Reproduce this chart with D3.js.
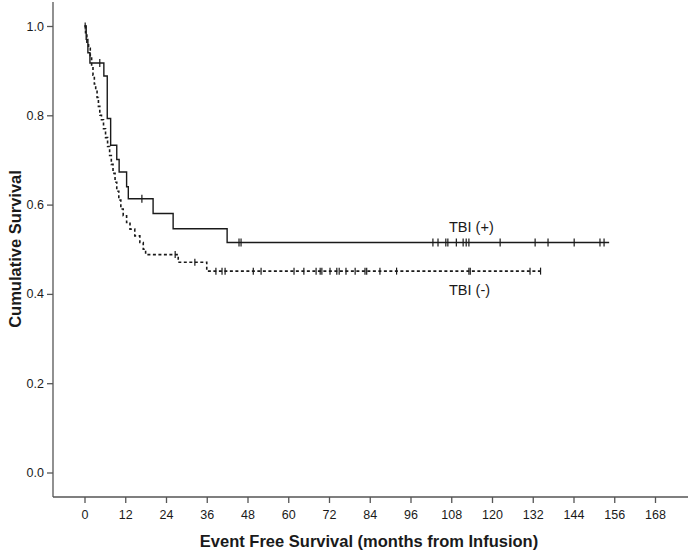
<!DOCTYPE html>
<html>
<head>
<meta charset="utf-8">
<script src="https://cdn.jsdelivr.net/npm/d3@7"></script>
<style>
  body { margin: 0; background: #fff; }
  svg { font-family: "Liberation Sans", Arial, sans-serif; }
</style>
</head>
<body>
<div id="chart"></div>
<script>
// TBI (+) : step times (months) and survival after each step
var tbiPosTimes = [0, 0.5, 1.0, 1.6, 5.7, 6.7, 7.7, 9.5, 10.2, 12.4, 12.9, 20.2, 26.1, 42.0];
var tbiPosSurv  = [1, 0.97, 0.94, 0.917, 0.888, 0.793, 0.733, 0.701, 0.673, 0.640, 0.613, 0.580, 0.546, 0.515];
var tbiPosEnd = 154.5;
var tbiPosCensor = [4.5, 16.9, 45.5, 46.1, 102.6, 104.1, 106.4, 107.0, 109.5, 111.5, 112.4, 113.2, 122.4, 132.7, 136.5, 144.2, 151.8, 153.0];

// TBI (-)
var tbiNegTimes = [0, 0.3, 0.7, 1.2, 1.7, 2.1, 2.5, 2.9, 3.3, 3.7, 4.1, 4.5, 5.0, 5.6, 6.2, 6.8, 7.4, 7.9, 8.4, 9.0, 9.5, 10.1, 10.7, 11.4, 12.4, 13.4, 14.8, 16.3, 17.3, 18.0, 27.6, 36.0];
var tbiNegSurv  = [1, 0.98, 0.96, 0.95, 0.93, 0.91, 0.89, 0.87, 0.86, 0.84, 0.82, 0.80, 0.79, 0.77, 0.75, 0.73, 0.71, 0.69, 0.67, 0.65, 0.63, 0.61, 0.59, 0.575, 0.56, 0.545, 0.53, 0.515, 0.50, 0.488, 0.471, 0.451];
var tbiNegEnd = 134.3;
var tbiNegCensor = [0.2, 26.7, 32.5, 38.7, 40.5, 41.4, 49.7, 52.0, 61.7, 64.6, 68.2, 69.4, 69.9, 72.3, 74.3, 75.0, 77.0, 79.7, 82.6, 83.1, 87.0, 91.9, 113.2, 113.6, 131.2, 134.3];

var xTicks = [0, 12, 24, 36, 48, 60, 72, 84, 96, 108, 120, 132, 144, 156, 168];
var yTicks = [0.0, 0.2, 0.4, 0.6, 0.8, 1.0];
var groupLabels = ["TBI (+)", "TBI (-)"];

var W = 688, H = 551;
var svg = d3.select("#chart").append("svg").attr("width", W).attr("height", H);

var x = d3.scaleLinear().domain([0, 168]).range([84.5, 655]);
var y = d3.scaleLinear().domain([0, 1]).range([472.5, 26]);

var axisColor = "#555";
var ink = "#1a1a1a";

// frame lines
svg.append("line").attr("x1", 53).attr("x2", 53).attr("y1", 2).attr("y2", 497)
  .attr("stroke", axisColor).attr("stroke-width", 1.3);
svg.append("line").attr("x1", 53).attr("x2", W).attr("y1", 497).attr("y2", 497)
  .attr("stroke", axisColor).attr("stroke-width", 1.3);

var gy = svg.append("g").attr("transform", "translate(53,0)")
  .call(d3.axisLeft(y).tickValues(yTicks).tickFormat(d3.format(".1f")).tickSize(6).tickPadding(3));
var gx = svg.append("g").attr("transform", "translate(0,497)")
  .call(d3.axisBottom(x).tickValues(xTicks).tickSize(6).tickPadding(7));
[gy, gx].forEach(function(g) {
  g.select(".domain").remove();
  g.selectAll(".tick line").attr("stroke", axisColor).attr("stroke-width", 1.3);
  g.selectAll(".tick text").attr("fill", ink).style("font-size", "12.5px");
});

// axis titles
svg.append("text").attr("x", 369).attr("y", 547).attr("text-anchor", "middle")
  .attr("fill", ink).style("font-size", "16.5px").style("font-weight", "bold")
  .text("Event Free Survival (months from Infusion)");
svg.append("text").attr("transform", "translate(21,249) rotate(-90)").attr("text-anchor", "middle")
  .attr("fill", ink).style("font-size", "16.5px").style("font-weight", "bold")
  .text("Cumulative Survival");

function stepPoints(times, surv, end) {
  var pts = times.map(function(t, i) { return [t, surv[i]]; });
  pts.push([end, surv[surv.length - 1]]);
  return pts;
}
function survAt(times, surv, t) {
  var s = surv[0];
  for (var i = 0; i < times.length; i++) { if (times[i] <= t) s = surv[i]; }
  return s;
}

var line = d3.line().x(function(d) { return x(d[0]); }).y(function(d) { return y(d[1]); })
  .curve(d3.curveStepAfter);

// TBI (+) solid
svg.append("path").datum(stepPoints(tbiPosTimes, tbiPosSurv, tbiPosEnd))
  .attr("d", line).attr("fill", "none").attr("stroke", ink).attr("stroke-width", 1.4);
// TBI (-) dashed
svg.append("path").datum(stepPoints(tbiNegTimes, tbiNegSurv, tbiNegEnd))
  .attr("d", line).attr("fill", "none").attr("stroke", ink).attr("stroke-width", 1.6)
  .attr("stroke-dasharray", "3,2.5");

// censor marks
svg.append("g").selectAll("line").data(tbiPosCensor).join("line")
  .attr("x1", function(d) { return x(d); }).attr("x2", function(d) { return x(d); })
  .attr("y1", function(d) { return y(survAt(tbiPosTimes, tbiPosSurv, d)) - 4; })
  .attr("y2", function(d) { return y(survAt(tbiPosTimes, tbiPosSurv, d)) + 4; })
  .attr("stroke", ink).attr("stroke-width", 1.2);
svg.append("g").selectAll("line").data(tbiNegCensor).join("line")
  .attr("x1", function(d) { return x(d); }).attr("x2", function(d) { return x(d); })
  .attr("y1", function(d) { return y(survAt(tbiNegTimes, tbiNegSurv, d)) - 3.5; })
  .attr("y2", function(d) { return y(survAt(tbiNegTimes, tbiNegSurv, d)) + 3.5; })
  .attr("stroke", ink).attr("stroke-width", 1.2);

// group labels
svg.append("text").attr("x", 449).attr("y", 232).attr("fill", ink).style("font-size", "14.5px")
  .text(groupLabels[0]);
svg.append("text").attr("x", 449).attr("y", 295).attr("fill", ink).style("font-size", "14.5px")
  .text(groupLabels[1]);
</script>
</body>
</html>
